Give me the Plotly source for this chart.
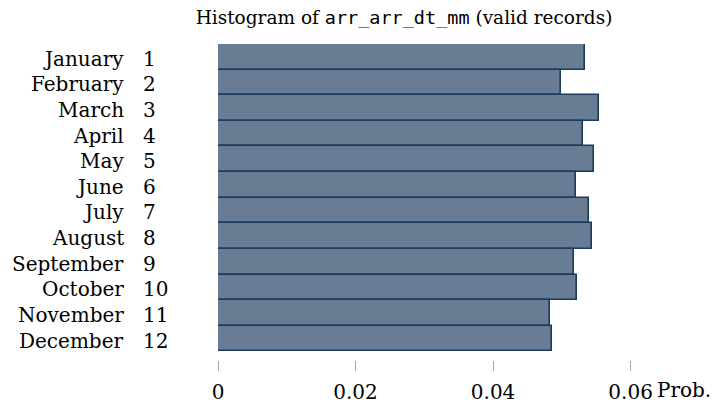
import plotly.graph_objects as go

months = ["January", "February", "March", "April", "May", "June", "July",
          "August", "September", "October", "November", "December"]
month_nums = ["1", "2", "3", "4", "5", "6", "7", "8", "9", "10", "11", "12"]
probs = [0.0533, 0.0499, 0.0554, 0.0531, 0.0547, 0.0521, 0.0539, 0.0544,
         0.0518, 0.0522, 0.0483, 0.0485]
x_ticks = [0, 0.02, 0.04, 0.06]
x_tick_text = ["0", "0.02", "0.04", "0.06"]

SERIF = "DejaVu Serif"
MONO = "DejaVu Sans Mono"
FS = 20

fig = go.Figure()
fig.add_trace(go.Bar(
    x=probs, y=months, orientation="h",
    marker=dict(color="rgb(104,125,148)",
                line=dict(color="rgb(26,60,95)", width=1.6)),
    showlegend=False, hoverinfo="skip",
))

W, H = 717, 416
L, R, T, B = 218, 52, 44, 44
plot_h = H - T - B
bars_bottom = 363
dom_bottom = (H - B - bars_bottom) / plot_h

annotations = []
for m, n in zip(months, month_nums):
    annotations.append(dict(x=0, y=m, xref="paper", yref="y", text=m,
                            xanchor="right", xshift=126 - L, yshift=-2,
                            showarrow=False,
                            font=dict(family=SERIF, size=FS, color="black")))
    annotations.append(dict(x=0, y=m, xref="paper", yref="y", text=n,
                            xanchor="left", xshift=141 - L, yshift=-2,
                            showarrow=False,
                            font=dict(family=SERIF, size=FS, color="black")))
annotations.append(dict(x=0.06, y=0, xref="x", yref="paper", text="Prob.",
                        xanchor="left", yanchor="top", xshift=24, yshift=-16,
                        showarrow=False,
                        font=dict(family=SERIF, size=FS, color="black")))

fig.update_layout(
    width=W, height=H,
    margin=dict(l=L, r=R, t=T, b=B),
    paper_bgcolor="white", plot_bgcolor="white",
    bargap=0,
    title=dict(
        text="Histogram of <span style='font-family:" + MONO + "'>arr_arr_dt_mm</span> (valid records)",
        x=404 / W, xanchor="center", y=1 - 18 / H, yanchor="middle",
        font=dict(family=SERIF, size=18.5, color="black"),
    ),
    xaxis=dict(range=[0, 0.065], tickvals=x_ticks, ticktext=x_tick_text,
               showgrid=False, zeroline=False, showline=False,
               ticks="outside", ticklen=10, tickcolor="#aaaaaa", tickwidth=1,
               ticklabelstandoff=4,
               anchor="free", position=0,
               tickfont=dict(family=SERIF, size=FS, color="black")),
    yaxis=dict(categoryorder="array", categoryarray=months,
               range=[11.5, -0.5], domain=[dom_bottom, 1],
               showticklabels=False, showgrid=False, zeroline=False,
               showline=False, ticks=""),
    annotations=annotations,
)

fig.write_html("out.html", config={"displayModeBar": False},
               post_script="document.body.style.margin='0';")
